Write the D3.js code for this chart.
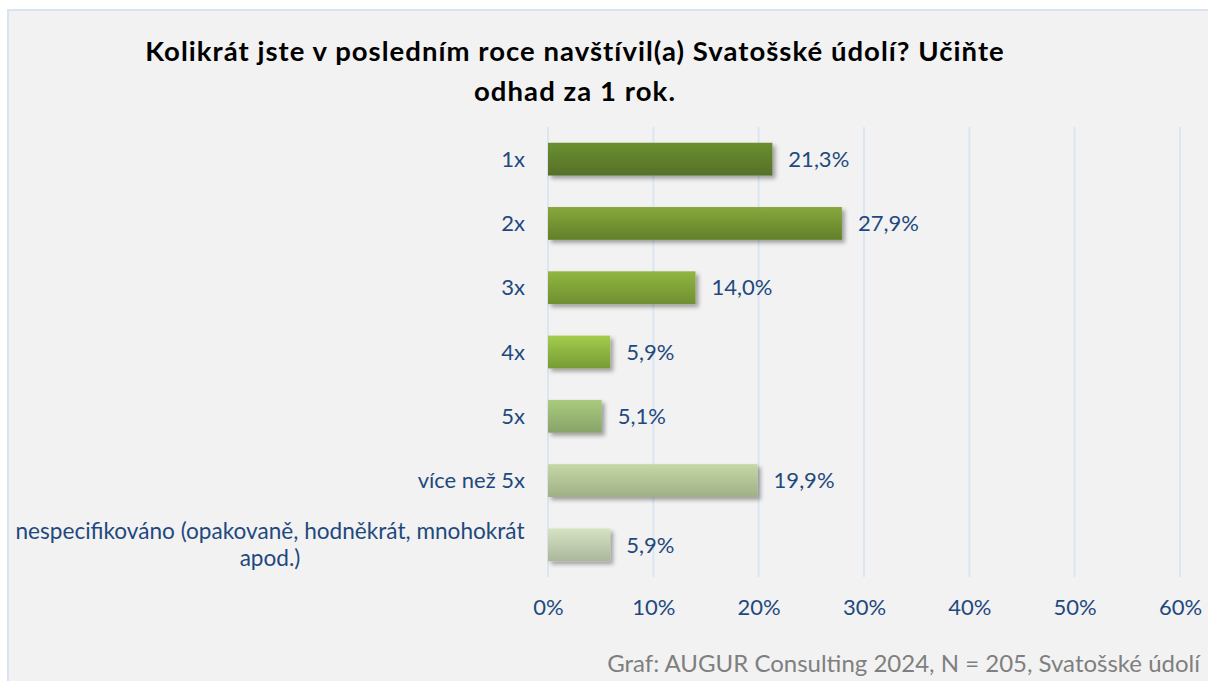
<!DOCTYPE html>
<html><head><meta charset="utf-8">
<script src="https://cdn.jsdelivr.net/npm/d3@7"></script>
<style>html,body{margin:0;padding:0;background:#fff;}svg{display:block;}</style>
</head><body>
<svg id="c" width="1208" height="681"></svg>
<script>
const categories = ["1x","2x","3x","4x","5x","více než 5x","nespecifikováno (opakovaně, hodněkrát, mnohokrát apod.)"];
const categoryLines = [["1x"],["2x"],["3x"],["4x"],["5x"],["více než 5x"],["nespecifikováno (opakovaně, hodněkrát, mnohokrát","apod.)"]];
const values = [21.3, 27.9, 14.0, 5.9, 5.1, 19.9, 5.9];
const valueLabels = ["21,3%","27,9%","14,0%","5,9%","5,1%","19,9%","5,9%"];
const ticks = [0,10,20,30,40,50,60];
const tickLabels = ["0%","10%","20%","30%","40%","50%","60%"];
const titleLines = ["Kolikrát jste v posledním roce navštívil(a) Svatošské údolí? Učiňte","odhad za 1 rok."];
const footer = "Graf: AUGUR Consulting 2024, N = 205, Svatošské údolí";
const gradTop = ["#6b8f2f","#86a83c","#91b640","#a4cc4c","#a9cb7c","#c5d8a5","#d5e3c2"];
const gradBot = ["#55702a","#62802a","#6f8f31","#779b35","#88a36a","#9fb086","#abb79c"];

const svg = d3.select("#c");
const font = "Lato, 'Open Sans', sans-serif";
const blue = "#1f497d";
const fs = 22;

svg.append("rect").attr("x",8).attr("y",10).attr("width",1300).attr("height",700)
  .attr("fill","#f2f2f2").attr("stroke","#dae3f3").attr("stroke-width",2);

const defs = svg.append("defs");
const f = defs.append("filter").attr("id","sh").attr("x","-10%").attr("y","-30%").attr("width","130%").attr("height","180%");
f.append("feDropShadow").attr("dx",3).attr("dy",3).attr("stdDeviation",2).attr("flood-color","#000").attr("flood-opacity",0.35);
categories.forEach((c,i)=>{
  const g = defs.append("linearGradient").attr("id","g"+i).attr("x1",0).attr("y1",0).attr("x2",0).attr("y2",1);
  g.append("stop").attr("offset","0%").attr("stop-color",gradTop[i]);
  g.append("stop").attr("offset","100%").attr("stop-color",gradBot[i]);
});

const x = d3.scaleLinear().domain([0,60]).range([548,1180]);
const y = d3.scaleBand().domain(categories).range([127,577]).paddingInner(0.49).paddingOuter(0.245);

// gridlines
svg.append("g").selectAll("line").data(ticks).join("line")
  .attr("x1",d=>x(d)).attr("x2",d=>x(d)).attr("y1",127).attr("y2",577)
  .attr("stroke","#dce6f2").attr("stroke-width",2);

// bars
svg.append("g").selectAll("rect").data(values).join("rect")
  .attr("x",x(0)).attr("y",(d,i)=>y(categories[i]))
  .attr("width",d=>x(d)-x(0)).attr("height",y.bandwidth())
  .attr("fill",(d,i)=>`url(#g${i})`).attr("filter","url(#sh)");

// value labels
svg.append("g").selectAll("text").data(values).join("text")
  .attr("x",d=>x(d)+16).attr("y",(d,i)=>y(categories[i])+y.bandwidth()/2)
  .attr("dy","0.35em").attr("fill",blue).attr("font-family",font).attr("font-size",fs)
  .text((d,i)=>valueLabels[i]);

// category labels
categories.forEach((c,i)=>{
  const lines = categoryLines[i];
  const cy = y(c)+y.bandwidth()/2;
  const lh = 27;
  if(lines.length===1){
    svg.append("text").attr("x",525).attr("y",cy).attr("dy","0.35em").attr("text-anchor","end")
      .attr("fill",blue).attr("font-family",font).attr("font-size",fs).text(lines[0]);
  } else {
    const t = svg.append("text").attr("fill",blue).attr("font-family",font).attr("font-size",fs+0.6).attr("text-anchor","middle");
    lines.forEach((l,j)=>{
      t.append("tspan").attr("x",270).attr("y",cy+(j-(lines.length-1)/2)*lh).attr("dy","0.35em").text(l);
    });
  }
});

// x axis tick labels
const ax = svg.append("g").attr("transform","translate(0,599)")
  .call(d3.axisBottom(x).tickValues(ticks).tickFormat((d,i)=>tickLabels[i]).tickSize(0).tickPadding(0));
ax.select(".domain").remove();
ax.selectAll("text").attr("fill",blue).attr("font-family",font).attr("font-size",fs);

// title
const titleWidths = [860, 202];
svg.append("g").selectAll("text").data(titleLines).join("text")
  .attr("x",575).attr("y",(d,i)=>61+i*40).attr("text-anchor","middle")
  .attr("font-family",font).attr("font-weight","bold").attr("font-size",27.5).attr("fill","#000").text(d=>d)
  .each(function(d,i){
    const w = this.getComputedTextLength();
    const ls = (titleWidths[i]-w)/d.length;
    d3.select(this).attr("letter-spacing",ls);
  });

// footer
svg.append("text").attr("x",1200).attr("y",672).attr("text-anchor","end")
  .attr("font-family",font).attr("font-size",24).attr("fill","#7f7f7f").text(footer);
</script>
</body></html>
